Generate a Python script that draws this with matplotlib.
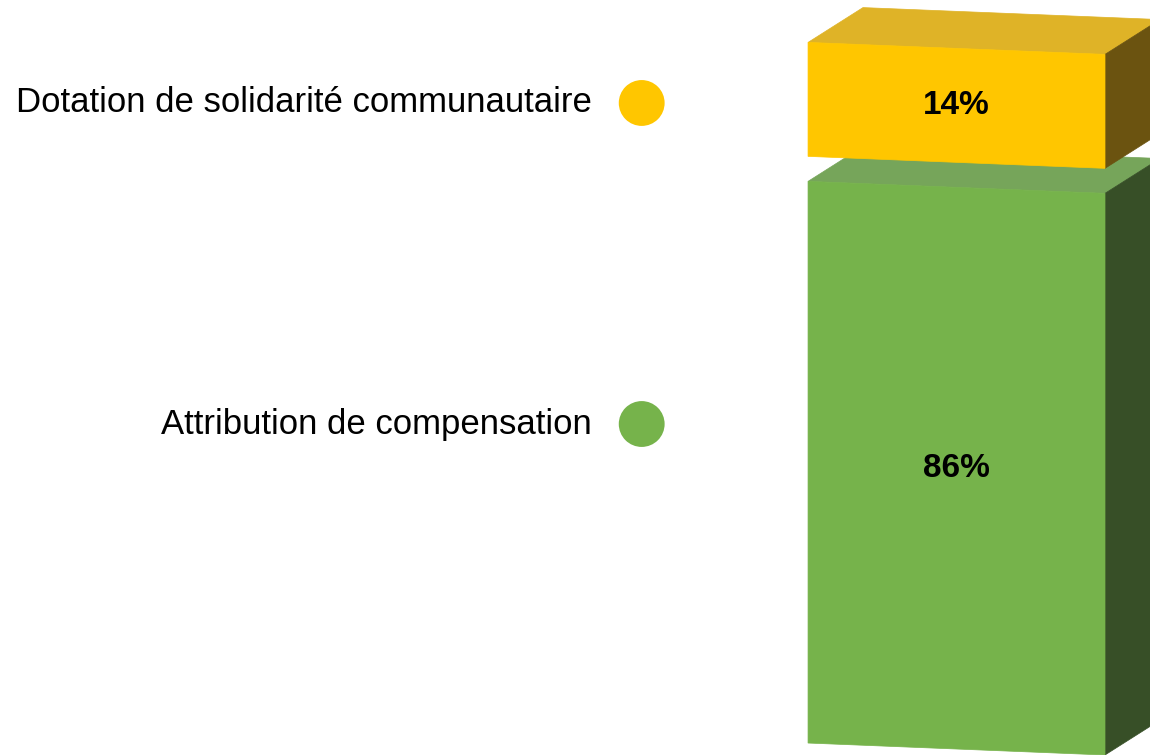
import matplotlib
matplotlib.use("Agg")
import matplotlib.pyplot as plt
from matplotlib.patches import Polygon

# data
categories = ["Attribution de compensation", "Dotation de solidarité communautaire"]
values = [86, 14]
labels = ["86%", "14%"]
front_cols = ["#76B34B", "#FFC600"]
top_cols = ["#76A55A", "#DFB327"]
side_cols = ["#374F27", "#6B5310"]

# value axis floor (the chart's axis does not start at zero)
AXIS_MIN = 17

# 3D look (in data units)
GAP = 3.07        # gap between stacked blocks
DX, DY = 0.185, 4.55   # depth offset
SKEW = 1.47       # perspective drop across the bar width

plt.rcParams["font.family"] = ["Liberation Sans", "DejaVu Sans"]

fig = plt.figure(figsize=(11.5, 7.55), dpi=100)
ax = fig.add_axes([0, 0, 1, 1])
ax.set_xlim(-2.721, 1.1515)
ax.set_ylim(15.53, 108.28)
ax.axis("off")


def pt(x, y):
    return (x, y - SKEW * x)


def block(bottom, top, fc, tc, sc):
    front = [pt(0, bottom), pt(1, bottom), pt(1, top), pt(0, top)]
    topf = [pt(0, top), pt(1, top), pt(1 + DX, top + DY), pt(DX, top + DY)]
    side = [pt(1, bottom), pt(1 + DX, bottom + DY), pt(1 + DX, top + DY), pt(1, top)]
    for poly, c in [(topf, tc), (side, sc), (front, fc)]:
        ax.add_patch(Polygon(poly, closed=True, facecolor=c, edgecolor=c, lw=0.5))


base = 0
for i, (v, lab, fc, tc, sc) in enumerate(zip(values, labels, front_cols, top_cols, side_cols)):
    bottom = max(base, AXIS_MIN) + (GAP if i > 0 else 0)
    top = base + v + (GAP if i > 0 else 0)
    block(bottom, top, fc, tc, sc)
    cx, cy = pt(0.5, (bottom + top) / 2)
    ax.text(cx, cy, lab, ha="center", va="center", fontsize=24,
            fontweight="bold", color="black")
    base += v

# legend-like labels on the left
leg_y = [0.4384, 0.8636]
for cat, y, c in zip(categories, leg_y, front_cols):
    ax.text(0.5148, y, cat, transform=ax.transAxes, ha="right", va="center",
            fontsize=25, color="black")
    ax.scatter([0.558], [y], s=1090, color=c, transform=ax.transAxes,
               edgecolors="none", clip_on=False)

fig.savefig("out.png", dpi=100)
